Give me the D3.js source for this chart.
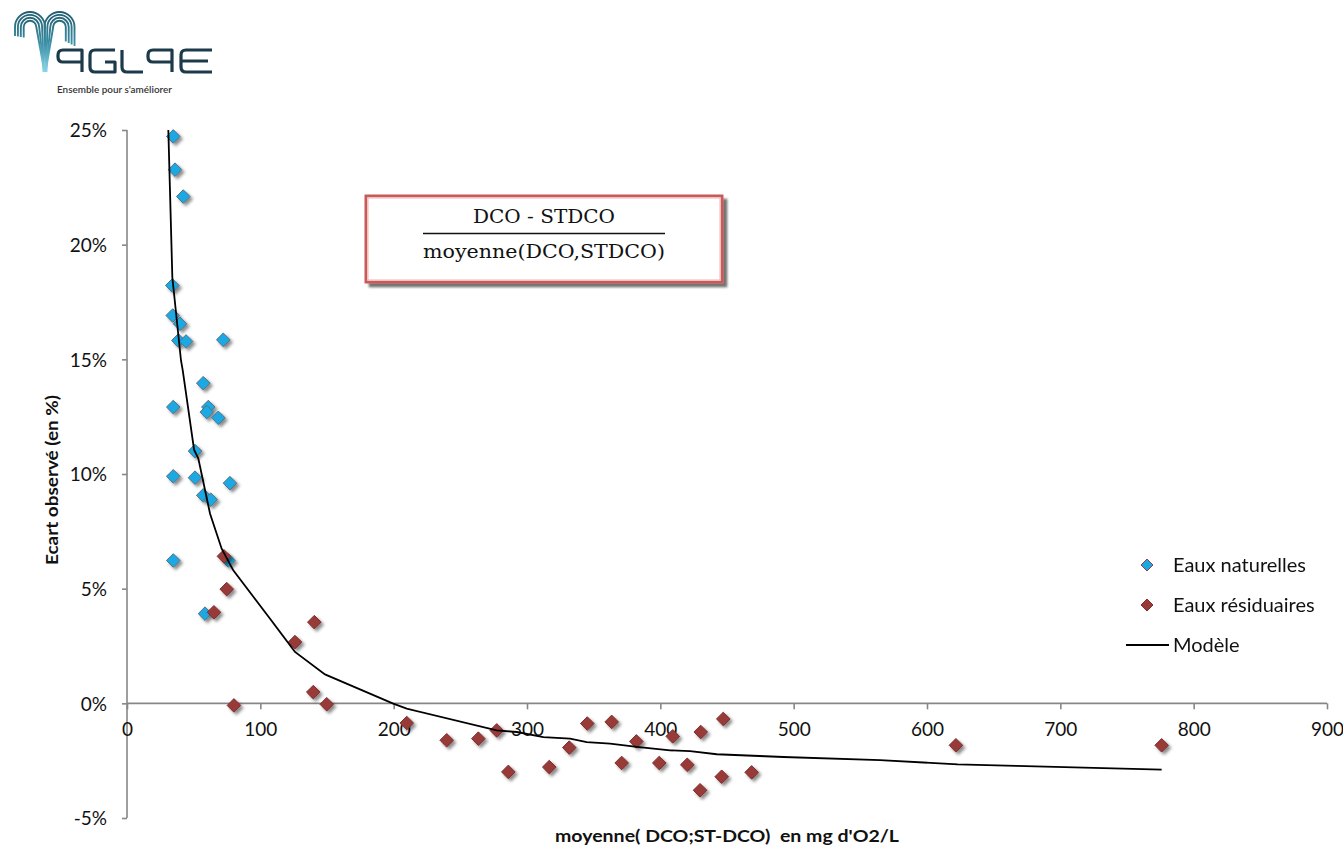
<!DOCTYPE html>
<html>
<head>
<meta charset="utf-8">
<script src="https://cdn.jsdelivr.net/npm/d3@7"></script>
<style>
  html, body { margin: 0; padding: 0; background: #fff; }
  svg { display: block; }
</style>
</head>
<body>
<svg id="chart" width="1343" height="845"></svg>
<script>
// X axis ticks (mg d'O2/L) and Y axis ticks (%)
const xTicks = [0, 100, 200, 300, 400, 500, 600, 700, 800, 900];
const yTicks = [-5, 0, 5, 10, 15, 20, 25];

// Eaux naturelles: mean DCO / observed gap (%)
const naturellesX = [34.7, 36.0, 42.2, 34.0, 34.3, 39.8, 38.5, 44.3, 72.2, 57.2, 34.7, 61.0, 59.8, 68.5, 51.0, 34.7, 51.0, 77.2, 57.2, 62.8, 34.7, 76.0, 58.5];
const naturellesY = [24.72, 23.27, 22.10, 18.22, 16.91, 16.55, 15.82, 15.78, 15.85, 13.96, 12.92, 12.92, 12.70, 12.45, 11.00, 9.90, 9.84, 9.60, 9.07, 8.88, 6.23, 6.23, 3.91];

// Eaux résiduaires
const residuairesX = [72.7, 74.8, 65.2, 80.2, 140.5, 126.0, 139.7, 149.8, 209.8, 239.8, 263.5, 277.3, 286.0, 316.7, 331.7, 345.2, 363.5, 371.0, 382.0, 399.2, 409.3, 420.2, 430.3, 429.8, 446.0, 447.2, 468.5, 621.7, 776.0];
const residuairesY = [6.41, 4.98, 3.97, -0.09, 3.54, 2.67, 0.49, -0.04, -0.86, -1.61, -1.54, -1.18, -2.99, -2.78, -1.93, -0.88, -0.81, -2.60, -1.66, -2.60, -1.44, -2.68, -1.25, -3.79, -3.20, -0.68, -3.01, -1.83, -1.83];

// Modèle curve
const modeleX = [31.0, 34.0, 40.5, 41.8, 50.3, 53.5, 62.3, 71.0, 79.7, 107.3, 126.0, 148.5, 199.7, 209.8, 277.3, 292.3, 312.3, 332.3, 344.8, 362.3, 382.3, 407.3, 422.3, 442.3, 492.3, 564.8, 623.0, 776.0];
const modeleY = [25.0, 18.58, 14.95, 14.52, 11.06, 10.67, 8.27, 6.74, 5.80, 3.69, 2.24, 1.26, -0.01, -0.23, -1.18, -1.25, -1.47, -1.54, -1.69, -1.76, -1.90, -2.05, -2.08, -2.22, -2.34, -2.48, -2.66, -2.89];

const seriesNames = ["Eaux naturelles", "Eaux résiduaires", "Modèle"];
const xTitle = "moyenne( DCO;ST-DCO)  en mg d'O2/L";
const yTitle = "Ecart observé (en %)";
const formulaTop = "DCO - STDCO";
const formulaBottom = "moyenne(DCO,STDCO)";
const tagline = "Ensemble pour s'améliorer";

const svg = d3.select("#chart");
const FONT = "Lato, 'Open Sans', sans-serif";

const x = d3.scaleLinear().domain([0, 900]).range([127, 1327]);
const y = d3.scaleLinear().domain([-5, 25]).range([818, 130]);

const defs = svg.append("defs");
const shadow = defs.append("filter").attr("id", "mshadow")
  .attr("x", "-50%").attr("y", "-50%").attr("width", "220%").attr("height", "220%");
shadow.append("feDropShadow").attr("dx", 2.5).attr("dy", 2.5).attr("stdDeviation", 1.6)
  .attr("flood-color", "#000").attr("flood-opacity", 0.45);

const boxShadow = defs.append("filter").attr("id", "bshadow")
  .attr("x", "-10%").attr("y", "-20%").attr("width", "130%").attr("height", "150%");
boxShadow.append("feDropShadow").attr("dx", 4).attr("dy", 4).attr("stdDeviation", 1.2)
  .attr("flood-color", "#000").attr("flood-opacity", 0.55);

const logoGrad = defs.append("linearGradient").attr("id", "archGrad")
  .attr("gradientUnits", "userSpaceOnUse")
  .attr("x1", 0).attr("y1", 10).attr("x2", 0).attr("y2", 74);
logoGrad.append("stop").attr("offset", "0%").attr("stop-color", "#1f5a6b");
logoGrad.append("stop").attr("offset", "50%").attr("stop-color", "#3a8da3");
logoGrad.append("stop").attr("offset", "100%").attr("stop-color", "#8edbef");

// ---- Logo ----
const logo = svg.append("g").attr("class", "logo");
const archPaths = [];
for (let i = 0; i < 4; i++) {
  const r = 15 - i * 2.9;
  const cy = 27;
  const lcx = 30, rcx = 59.5;
  // left arch: short left leg, long right leg down the stem
  archPaths.push(`M${lcx - r},${36 + i * 0.5} V${cy} A${r},${r} 0 0 1 ${lcx + r},${cy} L${43.5 + i * 0.3},72`);
  // right arch: long left leg down the stem, right leg ending above the letters
  archPaths.push(`M${46.5 - i * 0.3},72 L${rcx - r},${cy} A${r},${r} 0 0 1 ${rcx + r},${cy} V${46 - i * 1.5}`);
}
logo.selectAll("path.arch").data(archPaths).join("path")
  .attr("class", "arch").attr("d", d => d)
  .attr("fill", "none").attr("stroke", "url(#archGrad)").attr("stroke-width", 1.9);

const letterPaths = [
  "M82,72 V50 H63 Q58,50 58,55 V57 Q58,62 63,62 H82",
  "M115,50 H95 Q90,50 90,55 V67 Q90,72 95,72 H115 V62 H105",
  "M122,50 V67 Q122,72 127,72 H143",
  "M172,72 V50 H153 Q148,50 148,55 V57 Q148,62 153,62 H172",
  "M212,50 H186 Q181,50 181,55 V67 Q181,72 186,72 H212 M181,61 H208"
];
logo.selectAll("path.letter").data(letterPaths).join("path")
  .attr("class", "letter").attr("d", d => d)
  .attr("fill", "none").attr("stroke", "#1c3a4a").attr("stroke-width", 3.2)
  .attr("stroke-linejoin", "round");
logo.append("text").attr("x", 57).attr("y", 93)
  .attr("font-family", FONT).attr("font-size", 8.5).attr("font-weight", 600)
  .attr("fill", "#333").attr("textLength", 115).attr("lengthAdjust", "spacingAndGlyphs")
  .text(tagline);

// ---- Axes ----
const axisColor = "#878787";
const yAxis = svg.append("g").attr("transform", `translate(${x(0)},0)`)
  .call(d3.axisLeft(y).tickValues(yTicks).tickSize(5).tickPadding(15).tickFormat(d => d + "%"));
const xAxis = svg.append("g").attr("transform", `translate(0,${y(0)})`)
  .call(d3.axisBottom(x).tickValues(xTicks).tickSize(6).tickPadding(13).tickFormat(d3.format("d")));
[xAxis, yAxis].forEach(ax => {
  ax.select(".domain").attr("stroke", axisColor).attr("stroke-width", 1.6);
  ax.selectAll(".tick line").attr("stroke", axisColor).attr("stroke-width", 1.6);
  ax.selectAll(".tick text").attr("font-family", FONT).attr("font-size", 19).attr("fill", "#111");
});
xAxis.select(".domain").attr("d", `M${x(0)},0H${x(900)}`);
yAxis.select(".domain").attr("d", `M0,${y(25)}V${y(-5)}`);
yAxis.selectAll(".tick text").attr("dy", "0.36em");

// Axis titles
svg.append("text")
  .attr("transform", `translate(58,${(y(25) + y(-5)) / 2 + 6}) rotate(-90)`)
  .attr("text-anchor", "middle").attr("font-family", FONT).attr("font-weight", 700)
  .attr("font-size", 17.5).attr("textLength", 170).attr("lengthAdjust", "spacingAndGlyphs")
  .attr("fill", "#111").text(yTitle);
svg.append("text")
  .attr("x", 727).attr("y", 842).attr("text-anchor", "middle")
  .style("white-space", "pre")
  .attr("font-family", FONT).attr("font-weight", 700).attr("font-size", 17.5)
  .attr("textLength", 344).attr("lengthAdjust", "spacingAndGlyphs")
  .attr("fill", "#111").text(xTitle);

// ---- Marks ----
const diamond = s => `M0,${-s}L${s},0L0,${s}L${-s},0Z`;
const blue = { fill: "#1aa8e2", stroke: "#55707f" };
const red = { fill: "#983a38", stroke: "#7e2f2d" };

const natData = naturellesX.map((v, i) => [v, naturellesY[i]]);
const resData = residuairesX.map((v, i) => [v, residuairesY[i]]);
const modData = modeleX.map((v, i) => [v, modeleY[i]]);

svg.append("g").attr("filter", "url(#mshadow)")
  .selectAll("path").data(natData).join("path")
  .attr("d", diamond(6.8))
  .attr("transform", d => `translate(${x(d[0])},${y(d[1])})`)
  .attr("fill", blue.fill).attr("stroke", blue.stroke).attr("stroke-width", 1);

svg.append("g").attr("filter", "url(#mshadow)")
  .selectAll("path").data(resData).join("path")
  .attr("d", diamond(6.8))
  .attr("transform", d => `translate(${x(d[0])},${y(d[1])})`)
  .attr("fill", red.fill).attr("stroke", red.stroke).attr("stroke-width", 1);

svg.append("path").datum(modData)
  .attr("d", d3.line().x(d => x(d[0])).y(d => y(d[1])))
  .attr("fill", "none").attr("stroke", "#000").attr("stroke-width", 1.8);

// ---- Formula box ----
const fb = svg.append("g");
fb.append("rect").attr("x", 366).attr("y", 196).attr("width", 356).attr("height", 86)
  .attr("fill", "#fff").attr("stroke", "#c95a58").attr("stroke-width", 2.6)
  .attr("filter", "url(#bshadow)");
fb.append("rect").attr("x", 366).attr("y", 196).attr("width", 356).attr("height", 86)
  .attr("fill", "#fff").attr("stroke", "#c95a58").attr("stroke-width", 2.6);
fb.append("rect").attr("x", 368).attr("y", 198).attr("width", 352).attr("height", 82)
  .attr("fill", "none").attr("stroke", "#e9b3b2").attr("stroke-width", 1);
fb.append("text").attr("x", 473).attr("y", 223)
  .attr("font-family", "'DejaVu Serif', serif").attr("font-size", 18)
  .attr("textLength", 142).attr("lengthAdjust", "spacingAndGlyphs")
  .attr("fill", "#111").text(formulaTop);
fb.append("line").attr("x1", 423).attr("x2", 665).attr("y1", 233.5).attr("y2", 233.5)
  .attr("stroke", "#111").attr("stroke-width", 1.3);
fb.append("text").attr("x", 423).attr("y", 258)
  .attr("font-family", "'DejaVu Serif', serif").attr("font-size", 18)
  .attr("textLength", 242).attr("lengthAdjust", "spacingAndGlyphs")
  .attr("fill", "#111").text(formulaBottom);

// ---- Legend ----
const lg = svg.append("g").attr("font-family", FONT).attr("font-size", 20).attr("fill", "#111");
const legendRows = [
  { name: seriesNames[0], y: 565, type: "marker", fill: blue.fill, stroke: "#9b3b3b" },
  { name: seriesNames[1], y: 605, type: "marker", fill: red.fill, stroke: red.stroke },
  { name: seriesNames[2], y: 645, type: "line" }
];
legendRows.forEach(r => {
  if (r.type === "marker") {
    lg.append("path").attr("d", diamond(6))
      .attr("transform", `translate(1147,${r.y})`)
      .attr("fill", r.fill).attr("stroke", r.stroke).attr("stroke-width", 1);
    lg.append("text").attr("x", 1173).attr("y", r.y).attr("dy", "0.36em").text(r.name);
  } else {
    lg.append("line").attr("x1", 1126).attr("x2", 1169).attr("y1", r.y).attr("y2", r.y)
      .attr("stroke", "#000").attr("stroke-width", 1.8);
    lg.append("text").attr("x", 1173).attr("y", r.y).attr("dy", "0.36em").text(r.name);
  }
});
</script>
</body>
</html>
